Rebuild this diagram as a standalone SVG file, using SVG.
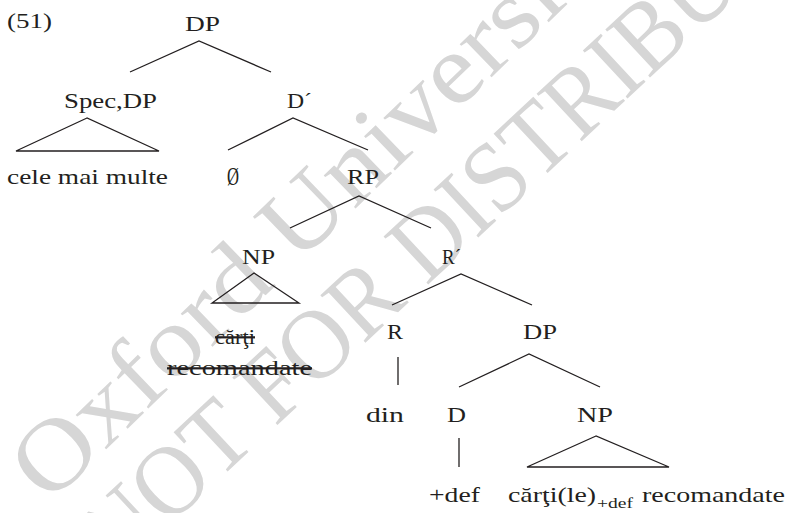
<svg xmlns="http://www.w3.org/2000/svg" width="793" height="513" viewBox="0 0 793 513">
<style>
text{font-family:'Liberation Serif','Times New Roman',Times,serif}
.wm{font-size:100px;fill:#d6d6d6}
.t{font-size:22px;fill:#231f20}
.sub{font-size:15.5px;fill:#231f20}
.strike{text-decoration:line-through}
.e{stroke:#231f20;stroke-width:1.3;fill:none}
</style>
<rect width="793" height="513" fill="#ffffff"/>
<g id="watermark">
<text class="wm" transform="translate(48.4,505.2) rotate(-44)" textLength="1069" lengthAdjust="spacingAndGlyphs">Oxford University Press</text>
<text class="wm" transform="translate(117.5,574) rotate(-43)" textLength="1081" lengthAdjust="spacingAndGlyphs">NOT FOR DISTRIBUTION</text>
</g>
<text id="label" class="t" x="7" y="28" textLength="45" lengthAdjust="spacingAndGlyphs">(51)</text>
<g id="connectors">
<polyline class="e" points="130,72 199,41 271,72"/>
<polygon class="e" points="87,118 16,151 159,151"/>
<polyline class="e" points="228,150 293,118 368,150"/>
<polyline class="e" points="290,228 359,196 431,228"/>
<polygon class="e" points="254,273 212,303 299,303"/>
<polyline class="e" points="392,305 461,274 532,305"/>
<line class="e" x1="398" y1="357" x2="398" y2="385"/>
<polyline class="e" points="459,387 529,354 600,387"/>
<line class="e" x1="459" y1="438" x2="459" y2="467"/>
<polygon class="e" points="596,436 527,467 669,467"/>
</g>
<g id="n-dp-top"><text class="t" x="185" y="31" textLength="35" lengthAdjust="spacingAndGlyphs">DP</text></g>
<g id="n-specdp"><text class="t" x="64" y="108" textLength="93" lengthAdjust="spacingAndGlyphs">Spec,DP</text></g>
<g id="n-cele"><text class="t" x="7" y="184" textLength="161" lengthAdjust="spacingAndGlyphs">cele mai multe</text></g>
<g id="n-dbar"><text class="t" x="287" y="108" textLength="25" lengthAdjust="spacingAndGlyphs">D´</text></g>
<g id="n-empty"><text class="t" x="227" y="185" style="font-size:25px" textLength="12" lengthAdjust="spacingAndGlyphs">Ø</text></g>
<g id="n-rp"><text class="t" x="347" y="184" textLength="32" lengthAdjust="spacingAndGlyphs">RP</text></g>
<g id="n-np1"><text class="t" x="242" y="264" textLength="33" lengthAdjust="spacingAndGlyphs">NP</text></g>
<g id="n-np1-text">
<text class="t strike" x="215" y="344" textLength="40" lengthAdjust="spacingAndGlyphs">cărţi</text>
<text class="t strike" x="167" y="375" textLength="145" lengthAdjust="spacingAndGlyphs">recomandate</text>
</g>
<g id="n-rbar"><text class="t" x="442" y="264" textLength="19" lengthAdjust="spacingAndGlyphs">R´</text></g>
<g id="n-r"><text class="t" x="387" y="339" textLength="16" lengthAdjust="spacingAndGlyphs">R</text></g>
<g id="n-dp2"><text class="t" x="523" y="339" textLength="34" lengthAdjust="spacingAndGlyphs">DP</text></g>
<g id="n-din"><text class="t" x="366" y="422" textLength="38" lengthAdjust="spacingAndGlyphs">din</text></g>
<g id="n-d"><text class="t" x="447" y="422" textLength="19" lengthAdjust="spacingAndGlyphs">D</text></g>
<g id="n-np2"><text class="t" x="577" y="422" textLength="36" lengthAdjust="spacingAndGlyphs">NP</text></g>
<g id="n-def"><text class="t" x="429" y="502" textLength="51" lengthAdjust="spacingAndGlyphs">+def</text></g>
<g id="n-np2-text">
<text class="t" x="508" y="502" textLength="88" lengthAdjust="spacingAndGlyphs">cărţi(le)</text>
<text class="sub" x="597" y="508" textLength="36" lengthAdjust="spacingAndGlyphs">+def</text>
<text class="t" x="642" y="502" textLength="143" lengthAdjust="spacingAndGlyphs">recomandate</text>
</g>
</svg>
